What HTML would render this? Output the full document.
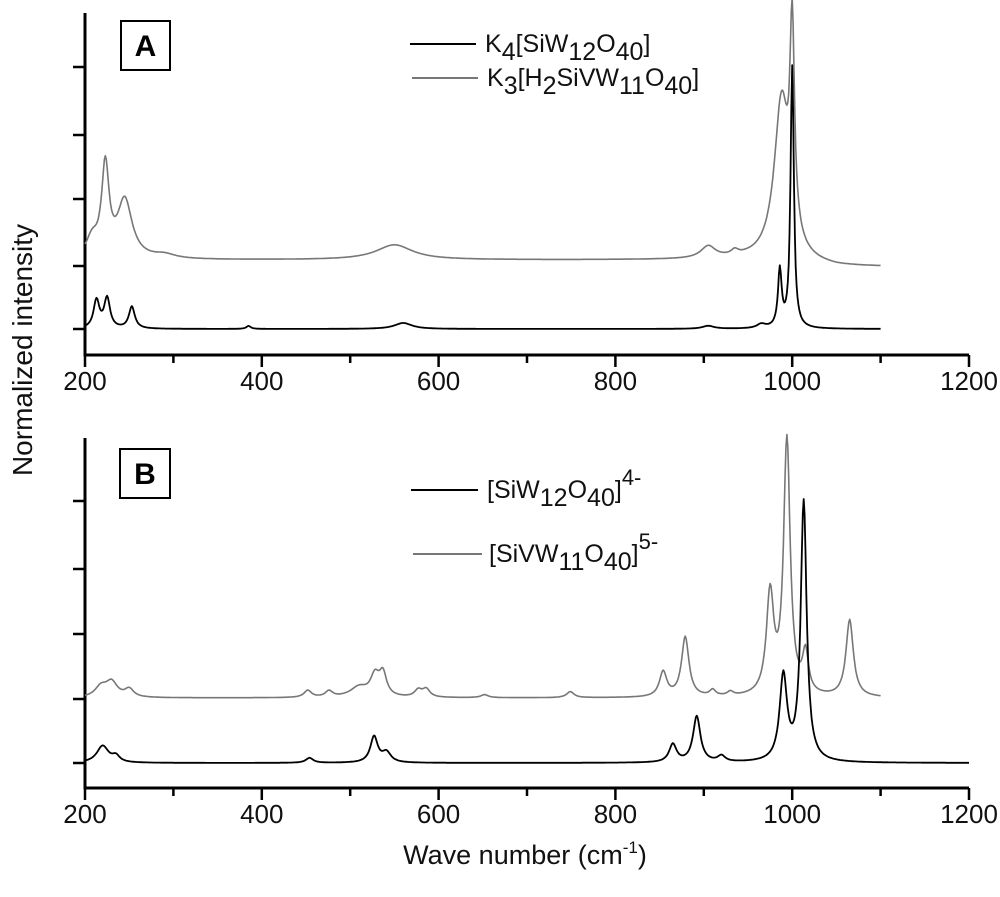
<!DOCTYPE html>
<html><head><meta charset="utf-8"><style>
html,body{margin:0;padding:0;background:#fff;}
svg{display:block;font-family:"Liberation Sans",Arial,sans-serif;}
</style></head><body>
<svg id="s" width="1000" height="897" viewBox="0 0 1000 897" xmlns="http://www.w3.org/2000/svg">
<g stroke="#000" stroke-width="3" fill="none">
<path d="M85,13 V355 H969"/>
<path d="M85,438 V788 H969"/>
</g>
<g id="ticks" stroke="#000" stroke-width="2.5"></g>
<g font-size="26" fill="#111" text-anchor="middle" id="labs"></g>
<text x="525" y="864" font-size="27" text-anchor="middle" fill="#111">Wave number (cm<tspan dy="-11" font-size="17">-1</tspan><tspan dy="11">)</tspan></text>
<text transform="translate(32,350) rotate(-90)" font-size="28" text-anchor="middle" fill="#111">Normalized intensity</text>
<rect x="121" y="21" width="49" height="49" fill="none" stroke="#000" stroke-width="2"/>
<text x="145.5" y="56" font-size="30" font-weight="bold" text-anchor="middle">A</text>
<rect x="120" y="449" width="50" height="49" fill="none" stroke="#000" stroke-width="2"/>
<text x="145" y="484" font-size="30" font-weight="bold" text-anchor="middle">B</text>
<line x1="410" y1="44" x2="476" y2="44" stroke="#000" stroke-width="2"/>
<line x1="412" y1="78" x2="478" y2="78" stroke="#777" stroke-width="2"/>
<text x="485" y="52" font-size="25" fill="#111">K<tspan dy="8">4</tspan><tspan dy="-8">[SiW</tspan><tspan dy="8">12</tspan><tspan dy="-8">O</tspan><tspan dy="8">40</tspan><tspan dy="-8">]</tspan></text>
<text x="487" y="86" font-size="25" fill="#111">K<tspan dy="8">3</tspan><tspan dy="-8">[H</tspan><tspan dy="8">2</tspan><tspan dy="-8">SiVW</tspan><tspan dy="8">11</tspan><tspan dy="-8">O</tspan><tspan dy="8">40</tspan><tspan dy="-8">]</tspan></text>
<line x1="411" y1="490" x2="478" y2="490" stroke="#000" stroke-width="2"/>
<line x1="413" y1="554" x2="482" y2="554" stroke="#777" stroke-width="2"/>
<text x="487" y="498" font-size="25" fill="#111">[SiW<tspan dy="8">12</tspan><tspan dy="-8">O</tspan><tspan dy="8">40</tspan><tspan dy="-8">]</tspan><tspan dy="-13" font-size="22">4-</tspan></text>
<text x="489" y="562" font-size="25" fill="#111">[SiVW<tspan dy="8">11</tspan><tspan dy="-8">O</tspan><tspan dy="8">40</tspan><tspan dy="-8">]</tspan><tspan dy="-13" font-size="22">5-</tspan></text>
<g id="curves" fill="none" stroke-width="1.6" stroke-linejoin="round"></g>
</svg>
<script>
var NS="http://www.w3.org/2000/svg";
function X(w){return 85+(w-200)*0.884;}
var t=document.getElementById("ticks"),L=document.getElementById("labs"),d="";
[[13,355,[67,135,199,266,329],380],[438,788,[501,569,634,699,763],813]].forEach(function(p){
 p[2].forEach(function(y){d+="M73,"+y+"H85";});
 for(var w=200;w<=1200;w+=100){var x=X(w);var maj=w%200==0;d+="M"+x+","+p[1]+"V"+(p[1]+(maj?12:8));
  if(maj){var e=document.createElementNS(NS,"text");e.setAttribute("x",x);e.setAttribute("y",p[3]+10);e.textContent=w;L.appendChild(e);}}
});
var pp=document.createElementNS(NS,"path");pp.setAttribute("d",d);t.appendChild(pp);
function curve(base,peaks,end,color,sw){
 var s="";for(var w=200;w<=end;w+=1){var b=typeof base=="function"?base(w):base;var h=0;
  peaks.forEach(function(k){var u=(w-k[0])/k[2];h+=k[1]/(1+u*u);});
  s+=(w==200?"M":"L")+X(w).toFixed(1)+","+(b-h).toFixed(1);}
 var e=document.createElementNS(NS,"path");e.setAttribute("d",s);e.setAttribute("stroke",color);e.setAttribute("stroke-width",sw);
 document.getElementById("curves").appendChild(e);}
curve(function(w){return w<950?260:260+Math.min(7,(w-950)/100*7);},
 [[208,18,8],[223,90,5],[245,58,10],[290,4,15],[550,15,25],[905,12,10],[935,5,5],[988,160,10],[1000,200,3]],1100,"#777",1.6);
curve(329,[[213,28,4],[225,30,4],[253,22,4],[385,3,3],[560,6,12],[905,3,8],[965,4,6],[986,57,2.5],[1000,262,2.2]],1100,"#000",1.8);
curve(698,[[218,10,8],[230,15,8],[250,8,6],[452,7,5],[476,6,5],[510,10,12],[528,20,6],[537,22,5],[577,7,5],[586,8,5],[652,3,5],[749,6,5],[854,25,5],[879,60,5],[910,6,4],[930,4,4],[975,100,5],[994,255,4.5],[1015,40,4],[1065,77,5]],1100,"#777",1.6);
curve(763,[[220,17,8],[235,6,5],[454,5,5],[527,26,5],[541,10,6],[865,18,5],[892,46,5],[920,6,5],[990,85,5],[1013,260,4]],1200,"#000",1.8);
</script>
</body></html>
